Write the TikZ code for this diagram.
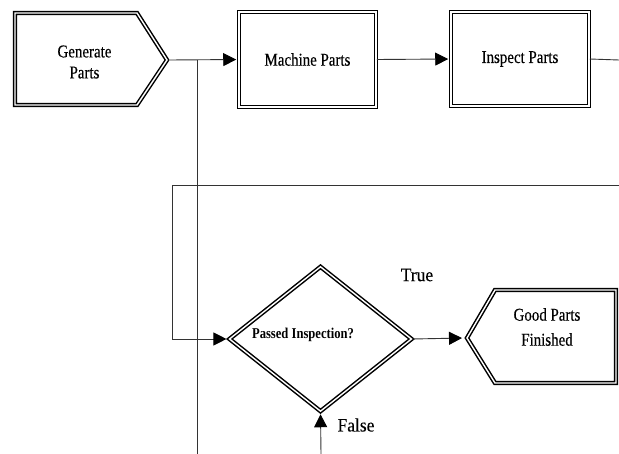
\documentclass[tikz,border=0pt]{standalone}
\usepackage{fontspec}
\setmainfont{Liberation Serif}
\newfontfamily\boxfont[FakeStretch=0.83,FakeBold=0.35]{Liberation Serif}
\newfontfamily\decfont[FakeStretch=0.84]{Liberation Serif}
\newfontfamily\tffont[FakeStretch=0.92,FakeBold=0.2]{Liberation Serif}
\usetikzlibrary{arrows.meta,shapes.geometric}

\begin{document}
\begin{tikzpicture}[x=1pt,y=-1pt,
  border/.style={draw=black,double=white,double distance=1.4pt,line width=1.5pt},
  procbox/.style={border,rectangle,inner sep=0pt},
  decbox/.style={border,diamond,inner sep=0pt},
  flow/.style={draw=black!80,line width=0.9pt},
  arr/.style={flow,-{Triangle[length=13pt,width=13pt,color=black]},shorten >=2pt},
  boxtext/.style={font=\boxfont\fontsize{18}{21}\selectfont,align=center,inner sep=0pt},
  dectext/.style={font=\decfont\bfseries\fontsize{15}{17}\selectfont,inner sep=0pt},
  tftext/.style={font=\tffont\fontsize{19}{21}\selectfont,inner sep=0pt}
]
\useasboundingbox (0,0) rectangle (619,454);

% start step: pentagon pointing right
\coordinate (gentip) at (170,60);
\draw[border] (15,13) -- (137,13) -- (167,60) -- (137,105) -- (15,105) -- cycle;
\node[boxtext] (gen) at (84.5,62) {Generate\\Parts};

% process steps
\node[procbox,minimum width=137pt,minimum height=95pt,font=\boxfont\fontsize{18}{21}\selectfont] (mach) at (307.5,59.5) {Machine Parts};
\node[procbox,minimum width=138pt,minimum height=94pt,font=\boxfont\fontsize{18}{21}\selectfont] (insp) at (520,59) {Inspect Parts};

% decision
\node[decbox,minimum width=182.6pt,minimum height=145pt] (dec) at (320.5,339) {};
\node[dectext] (dectxt) at (303,335) {Passed Inspection?};

% end step: pentagon pointing left
\coordinate (goodtip) at (464,338);
\draw[border] (616,290) -- (495,290) -- (467,338) -- (495,383) -- (616,383) -- cycle;
\node[boxtext,font=\boxfont\fontsize{18}{25}\selectfont] (good) at (547,327) {Good Parts\\Finished};

% branch labels
\node[tftext] (truelbl) at (417,275) {True};
\node[tftext] (falselbl) at (356,425) {False};

% loose ends of the connectors
\coordinate (j1) at (197,60);
\coordinate (bot1) at (197,454);
\coordinate (out1) at (619,60);
\coordinate (in1) at (619,185);
\coordinate (c1) at (172,185);
\coordinate (c2) at (172,339);
\coordinate (bot2) at (321,454);

% connectors
\draw[arr] (gentip) -- (mach.west);
\draw[flow] (j1) -- (bot1);
\draw[arr] (mach.east) -- (insp.west);
\draw[flow] (insp.east) -- (out1);
\draw[arr] (in1) -- (c1) -- (c2) -- (dec.west);
\draw[arr] (dec.east) -- (goodtip);
\draw[arr] (bot2) -- (dec.south);
\end{tikzpicture}
\end{document}
